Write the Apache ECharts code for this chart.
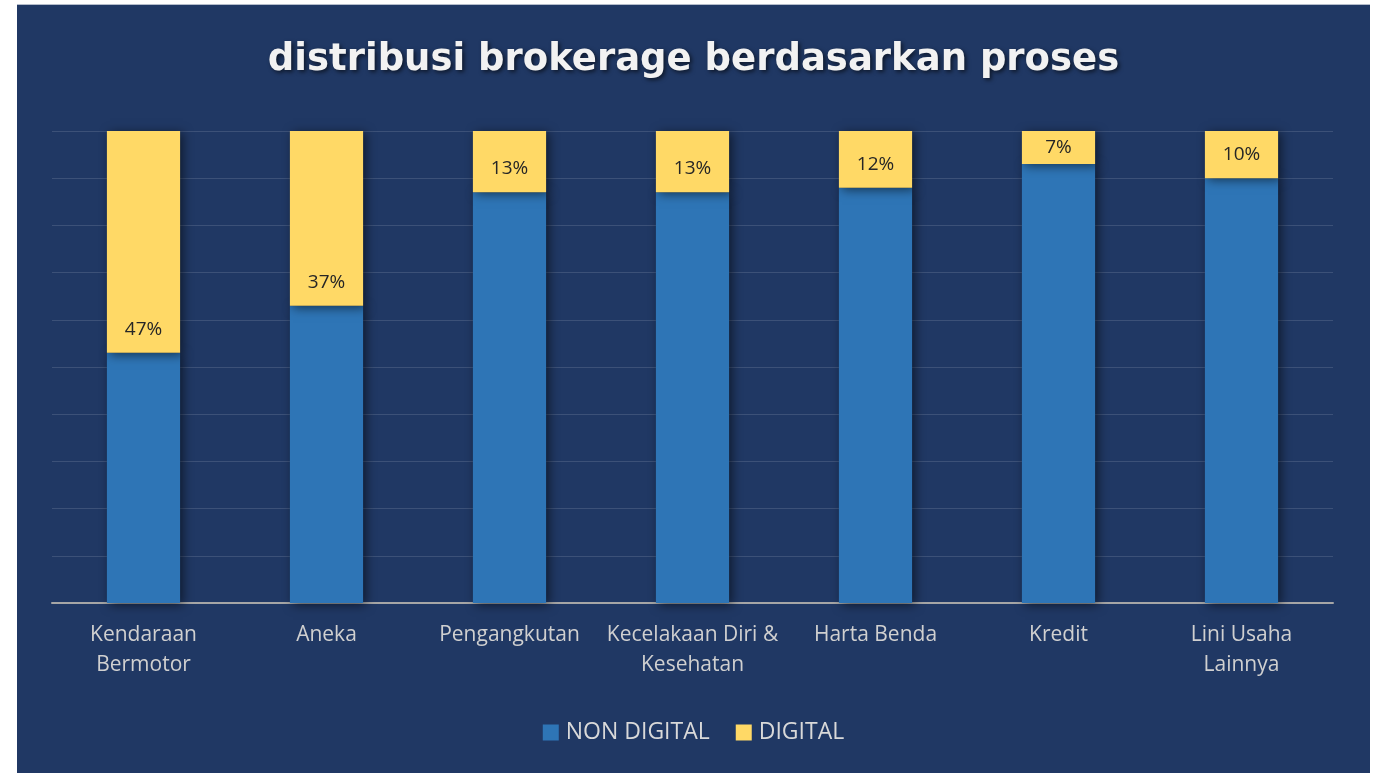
<!DOCTYPE html>
<html>
<head>
<meta charset="utf-8">
<script src="https://cdn.jsdelivr.net/npm/echarts@6/dist/echarts.min.js"></script>
<style>
  html, body { margin: 0; padding: 0; background: #ffffff; }
  #chart {
    position: absolute;
    left: 17px;
    top: 4px;
    width: 1353px;
    height: 769px;
    border-top: 1px solid #b4bccb;
    box-sizing: border-box;
  }
</style>
</head>
<body>
<div id="chart"></div>
<script>
// kategori dan nilai (persen)
const categories = ['Kendaraan\nBermotor', 'Aneka', 'Pengangkutan', 'Kecelakaan Diri &\nKesehatan', 'Harta Benda', 'Kredit', 'Lini Usaha\nLainnya']
const nonDigital = [53, 63, 87, 87, 88, 93, 90]
const digital = [47, 37, 13, 13, 12, 7, 10]
const seriesNames = ['NON DIGITAL', 'DIGITAL']

let myChart = echarts.init(document.getElementById('chart'))

const barShadow = {
  shadowBlur: 10,
  shadowColor: 'rgba(0, 0, 0, 0.55)',
  shadowOffsetX: 3,
  shadowOffsetY: 2
}

myChart.setOption({
  backgroundColor: '#203864',
  animation: false,
  title: {
    text: 'distribusi brokerage berdasarkan proses',
    left: 'center',
    top: 32,
    textStyle: {
      color: '#f2f2f2',
      fontFamily: 'DejaVu Sans',
      fontWeight: 'bold',
      fontSize: 37,
      textShadowColor: 'rgba(0, 0, 0, 0.6)',
      textShadowBlur: 4,
      textShadowOffsetX: 2,
      textShadowOffsetY: 2
    }
  },
  grid: {
    left: 35,
    right: 37,
    top: 126,
    bottom: 170
  },
  legend: {
    bottom: 24,
    left: 'center',
    itemWidth: 16,
    itemHeight: 16,
    itemGap: 26,
    icon: 'rect',
    textStyle: {
      color: '#d9d9d9',
      fontFamily: 'Open Sans',
      fontSize: 23,
      padding: [0, 0, 0, 2]
    },
    data: seriesNames
  },
  xAxis: {
    type: 'category',
    data: categories,
    axisLine: {
      lineStyle: { color: '#a6a6a6', width: 2 }
    },
    axisTick: { show: false },
    axisLabel: {
      color: '#d0d0d0',
      fontFamily: 'Open Sans',
      fontSize: 21,
      lineHeight: 30,
      margin: 17,
      interval: 0
    }
  },
  yAxis: {
    type: 'value',
    min: 0,
    max: 100,
    interval: 10,
    axisLine: { show: false },
    axisTick: { show: false },
    axisLabel: { show: false },
    splitLine: {
      lineStyle: { color: 'rgba(255, 255, 255, 0.13)', width: 1 }
    }
  },
  series: [
    {
      name: seriesNames[0],
      type: 'bar',
      stack: 'total',
      barWidth: '40%',
      data: nonDigital,
      itemStyle: Object.assign({ color: '#2e75b6' }, barShadow)
    },
    {
      name: seriesNames[1],
      type: 'bar',
      stack: 'total',
      barWidth: '40%',
      data: digital.map(v => v < 10 ? { value: v, label: { position: 'inside' } } : v),
      itemStyle: Object.assign({ color: '#ffd966' }, barShadow),
      label: {
        show: true,
        position: 'insideBottom',
        distance: 14,
        formatter: '{c}%',
        color: '#262626',
        fontFamily: 'Open Sans',
        fontSize: 19
      }
    }
  ]
})
</script>
</body>
</html>
